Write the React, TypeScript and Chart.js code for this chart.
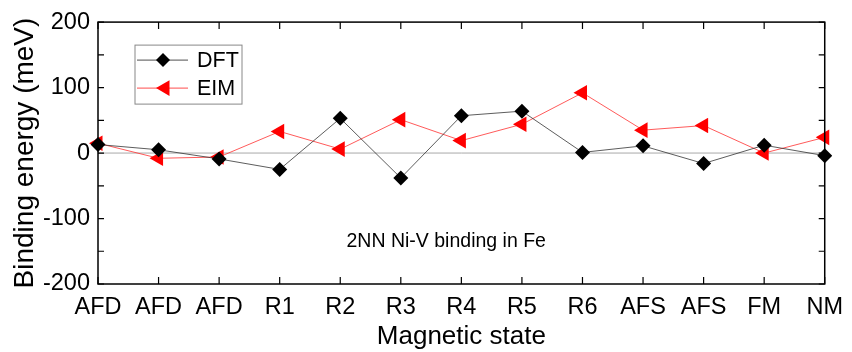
import React, { useEffect, useRef } from 'react';
import { Chart, registerables } from 'chart.js';

Chart.register(...registerables);

const categories = ['AFD', 'AFD', 'AFD', 'R1', 'R2', 'R3', 'R4', 'R5', 'R6', 'AFS', 'AFS', 'FM', 'NM'];
const dftValues = [13, 5, -9, -25, 53, -38, 57, 64, 1, 11, -16, 12, -4];
const eimValues = [15, -8, -6, 33, 6, 51, 19, 44, 92, 35, 42, 0, 24];
const seriesNames = ['DFT', 'EIM'];
const yMin = -200;
const yMax = 200;
const yMinorStep = 50;
const yLabelStep = 100;
const annotationText = '2NN Ni-V binding in Fe';
const annotationPos = { x: 5.75, y: -135 };
const xTitle = 'Magnetic state';
const yTitle = 'Binding energy (meV)';

const FONT = '"Liberation Sans", Arial, Helvetica, sans-serif';

function drawDiamond(ctx: CanvasRenderingContext2D, x: number, y: number, r: number, color: string) {
  ctx.beginPath();
  ctx.moveTo(x, y - r);
  ctx.lineTo(x + r, y);
  ctx.lineTo(x, y + r);
  ctx.lineTo(x - r, y);
  ctx.closePath();
  ctx.fillStyle = color;
  ctx.fill();
}

function drawLeftTriangle(ctx: CanvasRenderingContext2D, x: number, y: number, r: number, color: string) {
  ctx.beginPath();
  ctx.moveTo(x - r, y);
  ctx.lineTo(x + r / 2, y - (r * Math.sqrt(3)) / 2);
  ctx.lineTo(x + r / 2, y + (r * Math.sqrt(3)) / 2);
  ctx.closePath();
  ctx.fillStyle = color;
  ctx.fill();
}

const framePlugin = {
  id: 'frameAndExtras',
  beforeDatasetsDraw(chart: any) {
    const { ctx, chartArea, scales } = chart;
    const y0 = scales.y.getPixelForValue(0);
    ctx.save();
    ctx.strokeStyle = '#a8a8a8';
    ctx.lineWidth = 1;
    ctx.beginPath();
    ctx.moveTo(chartArea.left, y0);
    ctx.lineTo(chartArea.right, y0);
    ctx.stroke();
    ctx.restore();
  },
  afterDraw(chart: any) {
    const { ctx, chartArea, scales } = chart;
    const { left, right, top, bottom } = chartArea;
    ctx.save();
    ctx.strokeStyle = '#000';
    ctx.lineWidth = 1.5;
    ctx.strokeRect(left, top, right - left, bottom - top);
    ctx.lineWidth = 1.2;
    ctx.beginPath();
    for (let i = 0; i < categories.length; i++) {
      const px = scales.x.getPixelForValue(i);
      ctx.moveTo(px, bottom);
      ctx.lineTo(px, bottom - 7);
      ctx.moveTo(px, top);
      ctx.lineTo(px, top + 7);
    }
    for (let v = yMin; v <= yMax; v += yMinorStep) {
      const py = scales.y.getPixelForValue(v);
      ctx.moveTo(left, py);
      ctx.lineTo(left + 6, py);
      ctx.moveTo(right, py);
      ctx.lineTo(right - 6, py);
    }
    ctx.stroke();

    // legend
    const bx = left + 37;
    const by = top + 23;
    const bw = 107;
    const bh = 59;
    ctx.strokeStyle = '#888';
    ctx.lineWidth = 1;
    ctx.strokeRect(bx, by, bw, bh);
    const rows = [
      { name: seriesNames[0], color: '#000', line: '#222', marker: 'diamond' },
      { name: seriesNames[1], color: '#ff0000', line: '#ff2020', marker: 'tri' },
    ];
    rows.forEach((row, i) => {
      const ry = by + 15 + i * 28;
      ctx.strokeStyle = row.line;
      ctx.lineWidth = 0.8;
      ctx.beginPath();
      ctx.moveTo(bx + 2, ry);
      ctx.lineTo(bx + 53, ry);
      ctx.stroke();
      if (row.marker === 'diamond') drawDiamond(ctx, bx + 28, ry, 7, row.color);
      else drawLeftTriangle(ctx, bx + 30, ry, 9, row.color);
      ctx.fillStyle = '#000';
      ctx.font = `21.5px ${FONT}`;
      ctx.textBaseline = 'middle';
      ctx.textAlign = 'left';
      ctx.fillText(row.name, bx + 62, ry + 1);
    });

    // annotation
    ctx.fillStyle = '#000';
    ctx.font = `19.5px ${FONT}`;
    ctx.textAlign = 'center';
    ctx.textBaseline = 'middle';
    ctx.fillText(annotationText, scales.x.getPixelForValue(annotationPos.x), scales.y.getPixelForValue(annotationPos.y));
    ctx.restore();
  },
};

export default function App() {
  const canvasRef = useRef<HTMLCanvasElement | null>(null);

  useEffect(() => {
    if (!canvasRef.current) return;
    const chart = new Chart(canvasRef.current, {
      type: 'line',
      data: {
        labels: categories,
        datasets: [
          {
            label: seriesNames[0],
            data: dftValues,
            borderColor: '#333',
            borderWidth: 0.8,
            backgroundColor: '#000',
            pointBackgroundColor: '#000',
            pointBorderColor: '#000',
            pointStyle: 'rectRot',
            pointRadius: 7.5,
            pointBorderWidth: 0,
            tension: 0,
          },
          {
            label: seriesNames[1],
            data: eimValues,
            borderColor: '#ff3030',
            borderWidth: 0.8,
            backgroundColor: '#ff0000',
            pointBackgroundColor: '#ff0000',
            pointBorderColor: '#ff0000',
            pointStyle: 'triangle',
            pointRotation: -90,
            pointRadius: 9,
            pointBorderWidth: 0,
            tension: 0,
          },
        ],
      },
      options: {
        animation: false,
        responsive: false,
        maintainAspectRatio: false,
        layout: { padding: { left: 0, right: 20, top: 17, bottom: 0 } },
        plugins: {
          legend: { display: false },
          tooltip: { enabled: false },
        },
        scales: {
          x: {
            type: 'category',
            offset: false,
            grid: { display: false, drawTicks: false },
            border: { display: false },
            ticks: {
              autoSkip: false,
              maxRotation: 0,
              padding: 9,
              color: '#000',
              font: { family: FONT, size: 23.5 },
            },
            title: {
              display: true,
              text: xTitle,
              color: '#000',
              font: { family: FONT, size: 26 },
              padding: { top: 0, bottom: 0 },
            },
            afterFit(scale: any) {
              scale.height = 68;
            },
          },
          y: {
            min: yMin,
            max: yMax,
            grid: { display: false, drawTicks: false },
            border: { display: false },
            ticks: {
              stepSize: yMinorStep,
              autoSkip: false,
              padding: 8,
              color: '#000',
              font: { family: FONT, size: 23.5 },
              callback: (v: any) => (Number(v) % yLabelStep === 0 ? String(v) : ''),
            },
            title: {
              display: true,
              text: yTitle,
              color: '#000',
              font: { family: FONT, size: 28 },
              padding: { top: 8, bottom: 0 },
            },
            afterFit(scale: any) {
              scale.width = 98;
            },
          },
        },
      },
      plugins: [framePlugin],
    });
    return () => chart.destroy();
  }, []);

  return (
    <div style={{ position: 'fixed', left: 0, top: 0, width: 852, height: 352, background: '#fff' }}>
      <canvas ref={canvasRef} width={852} height={352} style={{ width: 852, height: 352, display: 'block' }} />
    </div>
  );
}
